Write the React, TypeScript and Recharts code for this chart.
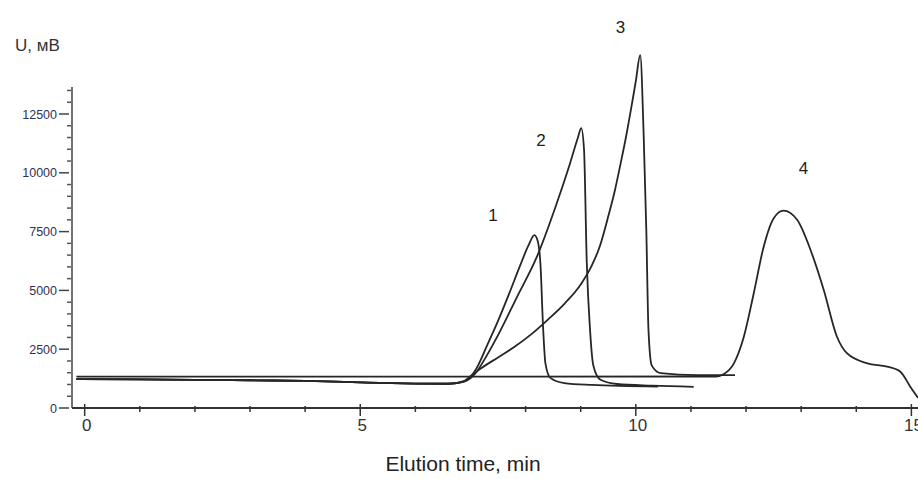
import { LineChart, Line, XAxis, YAxis, ReferenceLine, ReferenceDot } from 'recharts';

// elution time (min) vs detector signal (mV)
const peak1 = [
  { t: -0.15, v: 1230 }, { t: 1, v: 1220 }, { t: 2, v: 1200 }, { t: 3, v: 1180 },
  { t: 4, v: 1150 }, { t: 5, v: 1090 }, { t: 6, v: 1040 }, { t: 6.6, v: 1030 },
  { t: 6.9, v: 1150 }, { t: 7.1, v: 1650 }, { t: 7.3, v: 2650 }, { t: 7.5, v: 3700 },
  { t: 7.7, v: 4850 }, { t: 7.9, v: 6050 }, { t: 8.05, v: 6900 }, { t: 8.16, v: 7350 },
  { t: 8.22, v: 7100 }, { t: 8.27, v: 6100 }, { t: 8.32, v: 3300 }, { t: 8.36, v: 1900 },
  { t: 8.45, v: 1280 }, { t: 8.7, v: 1060 }, { t: 9.2, v: 980 }, { t: 10.4, v: 910 },
];

const peak2 = [
  { t: -0.15, v: 1230 }, { t: 1, v: 1220 }, { t: 2, v: 1200 }, { t: 3, v: 1180 },
  { t: 4, v: 1150 }, { t: 5, v: 1090 }, { t: 6, v: 1040 }, { t: 6.6, v: 1030 },
  { t: 6.9, v: 1130 }, { t: 7.1, v: 1500 }, { t: 7.3, v: 2250 }, { t: 7.5, v: 3100 },
  { t: 7.85, v: 4750 }, { t: 8.2, v: 6400 }, { t: 8.55, v: 8600 }, { t: 8.8, v: 10350 },
  { t: 8.95, v: 11500 }, { t: 9.01, v: 11900 }, { t: 9.06, v: 11000 }, { t: 9.11, v: 6200 },
  { t: 9.17, v: 3300 }, { t: 9.23, v: 1800 }, { t: 9.36, v: 1200 }, { t: 9.66, v: 1020 },
  { t: 10.3, v: 950 }, { t: 11.05, v: 900 },
];

const peak3 = [
  { t: -0.15, v: 1230 }, { t: 1, v: 1220 }, { t: 2, v: 1200 }, { t: 3, v: 1180 },
  { t: 4, v: 1150 }, { t: 5, v: 1090 }, { t: 6, v: 1040 }, { t: 6.6, v: 1030 },
  { t: 6.85, v: 1100 }, { t: 7.0, v: 1350 }, { t: 7.2, v: 1700 }, { t: 7.5, v: 2150 },
  { t: 7.8, v: 2600 }, { t: 8.1, v: 3130 }, { t: 8.4, v: 3750 }, { t: 8.7, v: 4420 },
  { t: 9.0, v: 5250 }, { t: 9.2, v: 6050 }, { t: 9.35, v: 6900 }, { t: 9.5, v: 8150 },
  { t: 9.62, v: 9250 }, { t: 9.72, v: 10350 }, { t: 9.82, v: 11500 }, { t: 9.92, v: 12800 },
  { t: 10.0, v: 13900 }, { t: 10.08, v: 15000 }, { t: 10.14, v: 11800 }, { t: 10.19, v: 7600 },
  { t: 10.23, v: 3300 }, { t: 10.29, v: 1800 }, { t: 10.45, v: 1480 }, { t: 11.1, v: 1400 },
  { t: 11.8, v: 1400 },
];

const peak4 = [
  { t: -0.15, v: 1330 }, { t: 11.45, v: 1340 }, { t: 11.6, v: 1450 }, { t: 11.78, v: 1900 },
  { t: 11.96, v: 3030 }, { t: 12.14, v: 4880 }, { t: 12.32, v: 6860 }, { t: 12.5, v: 8060 },
  { t: 12.68, v: 8390 }, { t: 12.93, v: 7990 }, { t: 13.17, v: 6720 }, { t: 13.41, v: 5020 },
  { t: 13.65, v: 3030 }, { t: 13.83, v: 2330 }, { t: 14.2, v: 1900 }, { t: 14.56, v: 1760 },
  { t: 14.8, v: 1545 }, { t: 14.98, v: 905 }, { t: 15.12, v: 430 },
];

const peakLabels = [
  { name: '1', t: 7.41, v: 8200 },
  { name: '2', t: 8.28, v: 11400 },
  { name: '3', t: 9.72, v: 16200 },
  { name: '4', t: 13.04, v: 10200 },
];

const xTicks = [0, 1, 2, 3, 4, 5, 6, 7, 8, 9, 10, 11, 12, 13, 14, 15];
const yTicks = [
  0, 500, 1000, 1500, 2000, 2500, 3000, 3500, 4000, 4500, 5000, 5500, 6000, 6500,
  7000, 7500, 8000, 8500, 9000, 9500, 10000, 10500, 11000, 11500, 12000, 12500, 13000, 13500,
];

const font = '"Liberation Sans", Arial, sans-serif';
const ink = '#262626';

function XTick({ x, y, payload }: any) {
  const major = payload.value % 5 === 0;
  return (
    <g>
      <line x1={x} x2={x} y1={y - (major ? 4 : 2)} y2={y + (major ? 8 : 4)} stroke="#333" strokeWidth={1.5} />
      {major && (
        <text x={x + 2} y={y + 23} textAnchor="middle" fontFamily={font} fontSize={17} fill="#333">
          {payload.value}
        </text>
      )}
    </g>
  );
}

function YTick({ x, y, payload }: any) {
  const major = payload.value % 2500 === 0;
  return (
    <g>
      {major ? (
        <>
          <line x1={x - 13} x2={x - 3} y1={y} y2={y} stroke="#444" strokeWidth={1.5} />
          <text x={x - 15} y={y + 4.5} textAnchor="end" fontFamily={font} fontSize={12.5} fill="#30305c">
            {payload.value}
          </text>
        </>
      ) : (
        <line x1={x - 5} x2={x - 1} y1={y} y2={y} stroke="#555" strokeWidth={1.5} />
      )}
    </g>
  );
}

export default function App() {
  return (
    <div style={{ position: 'relative', width: 918, height: 479, background: '#fff' }}>
      <style>{'body{margin:0}'}</style>
      <LineChart width={918} height={479} margin={{ top: 8.16, right: 0, bottom: 0, left: 0 }}>
        <XAxis
          type="number"
          dataKey="t"
          domain={[-0.23, 15.12]}
          ticks={xTicks}
          height={71}
          tickSize={0}
          tickMargin={0}
          tickLine={false}
          axisLine={{ stroke: '#333', strokeWidth: 2 }}
          tick={<XTick />}
          interval={0}
        />
        <YAxis
          type="number"
          dataKey="v"
          domain={[0, 17000]}
          ticks={yTicks}
          width={72}
          tickSize={0}
          tickMargin={0}
          tickLine={false}
          axisLine={false}
          tick={<YTick />}
          interval={0}
        />
        <ReferenceLine
          segment={[{ x: -0.23, y: 0 }, { x: -0.23, y: 13650 }]}
          stroke="#444"
          strokeWidth={1.5}
          ifOverflow="visible"
        />
        <Line data={peak1} dataKey="v" type="monotone" stroke={ink} strokeWidth={1.8} dot={false} isAnimationActive={false} />
        <Line data={peak2} dataKey="v" type="monotone" stroke={ink} strokeWidth={1.8} dot={false} isAnimationActive={false} />
        <Line data={peak3} dataKey="v" type="monotone" stroke={ink} strokeWidth={1.8} dot={false} isAnimationActive={false} />
        <Line data={peak4} dataKey="v" type="monotone" stroke={ink} strokeWidth={1.8} dot={false} isAnimationActive={false} />
        {peakLabels.map((p) => (
          <ReferenceDot
            key={p.name}
            x={p.t}
            y={p.v}
            r={1}
            fill="none"
            stroke="none"
            ifOverflow="visible"
            label={{ value: p.name, position: 'center', fill: '#222', fontSize: 17, fontFamily: font }}
          />
        ))}
      </LineChart>
      <div style={{ position: 'absolute', left: 15, top: 36, fontFamily: font, fontSize: 17, color: '#333', whiteSpace: 'nowrap' }}>
        U, мВ
      </div>
      <div
        style={{
          position: 'absolute',
          left: 463,
          top: 452,
          transform: 'translateX(-50%)',
          fontFamily: font,
          fontSize: 21,
          color: '#222',
          whiteSpace: 'nowrap',
        }}
      >
        Elution time, min
      </div>
    </div>
  );
}
